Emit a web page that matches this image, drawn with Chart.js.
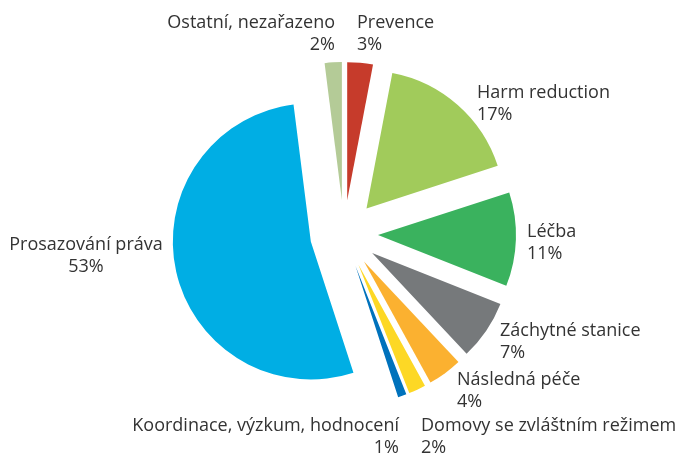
<!DOCTYPE html>
<html><head><meta charset="utf-8">
<script src="https://cdn.jsdelivr.net/npm/chart.js@4"></script>
<style>html,body{margin:0;padding:0;background:#fff}#wrap{width:685px;height:454px;position:relative}</style>
</head><body><div id="wrap"><canvas id="c"></canvas></div>
<script>
// ---- data ----
const categories = ['Prevence','Harm reduction','Léčba','Záchytné stanice','Následná péče','Domovy se zvláštním režimem','Koordinace, výzkum, hodnocení','Prosazování práva','Ostatní, nezařazeno'];
const shares = [3, 17, 11, 7, 4, 2, 1, 53, 2];

// ---- styles / layout ----
const colors = ['#C63B2B','#A1CB5B','#3AB25E','#76797B','#FBB130','#FDD825','#0072BC','#00AEE4','#B4CB97'];
const labelLayout = [
  {x:357, y:28,  align:'left'},
  {x:477, y:98,  align:'left'},
  {x:527, y:237, align:'left'},
  {x:500, y:336, align:'left'},
  {x:457, y:385, align:'left'},
  {x:421, y:431, align:'left'},
  {x:399, y:431, align:'right'},
  {x:86,  y:250, align:'center'},
  {x:335, y:28,  align:'right'}
];
const EXPLODE = 34;
const LINE_GAP = 22;
const FONT = '18px "Open Sans", sans-serif';

const explodePlugin = {
  id: 'explode',
  afterDatasetUpdate(chart, args) {
    args.meta.data.forEach(arc => {
      const mid = (arc.startAngle + arc.endAngle) / 2;
      arc.x += Math.cos(mid) * EXPLODE;
      arc.y += Math.sin(mid) * EXPLODE;
    });
  }
};

const labelPlugin = {
  id: 'sliceLabels',
  afterDraw(chart) {
    const ctx = chart.ctx;
    ctx.save();
    ctx.font = FONT;
    ctx.fillStyle = '#333333';
    ctx.textBaseline = 'alphabetic';
    categories.forEach((name, i) => {
      const p = labelLayout[i];
      ctx.textAlign = p.align;
      ctx.fillText(name, p.x, p.y);
      ctx.fillText(shares[i] + '%', p.x, p.y + LINE_GAP);
    });
    ctx.restore();
  }
};

new Chart(document.getElementById('c'), {
  type: 'pie',
  data: {
    labels: categories,
    datasets: [{
      data: shares,
      backgroundColor: colors,
      borderWidth: 0
    }]
  },
  options: {
    responsive: true,
    maintainAspectRatio: false,
    animation: false,
    events: [],
    layout: { padding: { top: 96, bottom: 82, left: 103, right: 100 } },
    plugins: { legend: { display: false }, tooltip: { enabled: false } }
  },
  plugins: [explodePlugin, labelPlugin]
});
</script>
</body></html>
